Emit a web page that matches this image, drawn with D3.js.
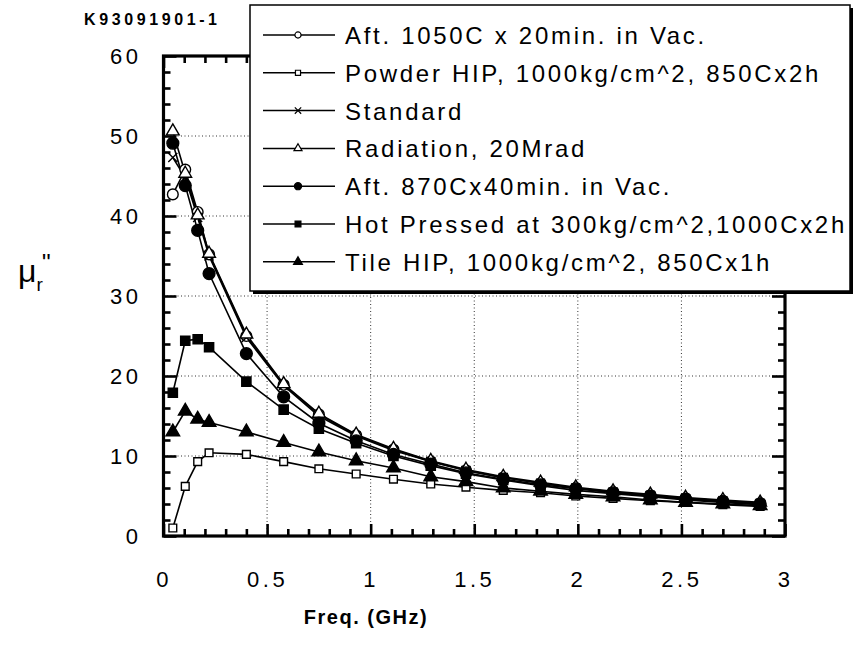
<!DOCTYPE html>
<html>
<head>
<meta charset="utf-8">
<script src="https://cdn.jsdelivr.net/npm/d3@7/dist/d3.min.js"></script>
<style>
  html, body { margin: 0; padding: 0; background: #fff; }
  svg { display: block; }
  text { font-family: "Liberation Sans", Arial, Helvetica, sans-serif; fill: #000; }
</style>
</head>
<body>
<svg id="chart" width="858" height="648"></svg>
<script>
// ---------------- data ----------------
const freqs      = [0.045, 0.105, 0.165, 0.22, 0.40, 0.58, 0.75, 0.93, 1.11, 1.29, 1.46, 1.64, 1.82, 1.99, 2.17, 2.35, 2.52, 2.70, 2.88];
const aft1050    = [42.7, 45.8, 40.5, 35.2, 25.0, 18.9, 15.2, 12.6, 10.8, 9.3, 8.2, 7.3, 6.6, 6.0, 5.5, 5.1, 4.7, 4.4, 4.1];
const powderHip  = [1.0, 6.2, 9.3, 10.4, 10.2, 9.3, 8.4, 7.75, 7.1, 6.5, 6.1, 5.7, 5.4, 5.0, 4.7, 4.4, 4.2, 3.9, 3.7];
const standard   = [47.3, 44.8, 39.8, 35.0, 24.8, 18.8, 15.0, 12.5, 10.7, 9.3, 8.2, 7.3, 6.6, 6.0, 5.5, 5.1, 4.7, 4.4, 4.1];
const radiation  = [50.6, 45.3, 40.1, 35.3, 25.2, 19.0, 15.3, 12.7, 10.9, 9.4, 8.3, 7.4, 6.7, 6.1, 5.6, 5.2, 4.8, 4.5, 4.2];
const aft870     = [49.1, 43.8, 38.2, 32.8, 22.8, 17.4, 14.1, 11.9, 10.2, 9.0, 7.9, 7.1, 6.4, 5.9, 5.4, 5.0, 4.6, 4.3, 4.0];
const hotPressed = [17.9, 24.4, 24.6, 23.6, 19.3, 15.8, 13.4, 11.6, 10.0, 8.8, 7.8, 7.0, 6.3, 5.7, 5.3, 4.9, 4.5, 4.2, 3.9];
const tileHip    = [13.0, 15.6, 14.6, 14.2, 13.0, 11.7, 10.5, 9.4, 8.5, 7.4, 6.8, 6.0, 5.6, 5.2, 4.9, 4.5, 4.2, 4.0, 3.8];

const seriesNames = [
  "Aft. 1050C x 20min. in Vac.",
  "Powder HIP, 1000kg/cm^2, 850Cx2h",
  "Standard",
  "Radiation, 20Mrad",
  "Aft. 870Cx40min. in Vac.",
  "Hot Pressed at 300kg/cm^2,1000Cx2h",
  "Tile HIP, 1000kg/cm^2, 850Cx1h"
];
const seriesValues = [aft1050, powderHip, standard, radiation, aft870, hotPressed, tileHip];

const xTicks = [0, 0.5, 1, 1.5, 2, 2.5, 3];
const xTickLabels = ["0", "0.5", "1", "1.5", "2", "2.5", "3"];
const yTicks = [0, 10, 20, 30, 40, 50, 60];
const yTickLabels = ["0", "10", "20", "30", "40", "50", "60"];
const xLabel = "Freq. (GHz)";
const docId = "K93091901-1";

// ---------------- styling (not data) ----------------
const markerStyles = [
  { type: d3.symbolCircle,   fill: "#fff", size: 90, lsize: 30 },
  { type: d3.symbolSquare,   fill: "#fff", size: 60, lsize: 26 },
  { type: d3.symbolTimes,    fill: "none", size: 55, lsize: 28 },
  { type: d3.symbolTriangle, fill: "#fff", size: 70, lsize: 28 },
  { type: d3.symbolCircle,   fill: "#000", size: 110, lsize: 40 },
  { type: d3.symbolSquare,   fill: "#000", size: 85, lsize: 34 },
  { type: d3.symbolTriangle, fill: "#000", size: 80, lsize: 34 }
];

const svg = d3.select("#chart");
const x = d3.scaleLinear().domain([0, 3]).range([163.5, 785]);
const y = d3.scaleLinear().domain([0, 60]).range([536, 56]);
const [x0, x1] = x.range();
const [y0, y1] = y.range();

// ---------------- grid ----------------
const grid = svg.append("g").attr("stroke", "#333").attr("stroke-width", 1).attr("stroke-dasharray", "1,2.5");
grid.selectAll("line.h").data(yTicks.filter(v => v > 0 && v < 60)).join("line")
  .attr("x1", x0).attr("x2", x1).attr("y1", d => y(d)).attr("y2", d => y(d));
grid.selectAll("line.v").data(xTicks.filter(v => v > 0 && v < 3)).join("line")
  .attr("y1", y0).attr("y2", y1).attr("x1", d => x(d)).attr("x2", d => x(d));

// ---------------- axes (inward ticks on all four sides) ----------------
const xMinor = d3.range(0, 3.0001, 0.1).map(v => +v.toFixed(2)).filter(v => !xTicks.some(t => Math.abs(t - v) < 1e-6));
const yMinor = d3.range(0, 60.001, 2).filter(v => yTicks.indexOf(v) < 0);

function styleAxis(g) {
  g.select(".domain").remove();
  g.selectAll(".tick line").attr("stroke", "#000").attr("stroke-width", 2.6);
  g.selectAll(".tick text")
    .style("font-family", "'Liberation Sans', Arial, sans-serif")
    .style("font-size", "22px").style("letter-spacing", "3.5px").attr("fill", "#000");
}

// bottom
svg.append("g").attr("transform", `translate(0,${y0})`)
  .call(d3.axisBottom(x).tickValues(xMinor).tickSizeInner(-7).tickSizeOuter(0).tickFormat(""))
  .call(styleAxis);
svg.append("g").attr("transform", `translate(0,${y0})`)
  .call(d3.axisBottom(x).tickValues(xTicks).tickSizeInner(-12).tickSizeOuter(0).tickPadding(35)
    .tickFormat((d, i) => xTickLabels[i]))
  .call(styleAxis);
// top
svg.append("g").attr("transform", `translate(0,${y1})`)
  .call(d3.axisTop(x).tickValues(xMinor).tickSizeInner(-7).tickSizeOuter(0).tickFormat(""))
  .call(styleAxis);
svg.append("g").attr("transform", `translate(0,${y1})`)
  .call(d3.axisTop(x).tickValues(xTicks).tickSizeInner(-12).tickSizeOuter(0).tickFormat(""))
  .call(styleAxis);
// left
svg.append("g").attr("transform", `translate(${x0},0)`)
  .call(d3.axisLeft(y).tickValues(yMinor).tickSizeInner(-7).tickSizeOuter(0).tickFormat(""))
  .call(styleAxis);
svg.append("g").attr("transform", `translate(${x0},0)`)
  .call(d3.axisLeft(y).tickValues(yTicks).tickSizeInner(-13).tickSizeOuter(0).tickPadding(22)
    .tickFormat((d, i) => yTickLabels[i]))
  .call(styleAxis);
// right
svg.append("g").attr("transform", `translate(${x1},0)`)
  .call(d3.axisRight(y).tickValues(yMinor).tickSizeInner(-7).tickSizeOuter(0).tickFormat(""))
  .call(styleAxis);
svg.append("g").attr("transform", `translate(${x1},0)`)
  .call(d3.axisRight(y).tickValues(yTicks).tickSizeInner(-13).tickSizeOuter(0).tickFormat(""))
  .call(styleAxis);

// frame
svg.append("rect").attr("x", x0).attr("y", y1).attr("width", x1 - x0).attr("height", y0 - y1)
  .attr("fill", "none").attr("stroke", "#000").attr("stroke-width", 3.2);

// ---------------- series ----------------
const line = d3.line().x(d => x(d[0])).y(d => y(d[1]));
const plot = svg.append("g");
seriesValues.forEach((vals, i) => {
  const pts = freqs.map((f, k) => [f, vals[k]]);
  plot.append("path").datum(pts).attr("d", line)
    .attr("fill", "none").attr("stroke", "#000").attr("stroke-width", 1.6);
});
seriesValues.forEach((vals, i) => {
  const st = markerStyles[i];
  const sym = d3.symbol().type(st.type).size(st.size);
  plot.append("g").selectAll("path").data(freqs.map((f, k) => [f, vals[k]])).join("path")
    .attr("d", sym)
    .attr("transform", d => `translate(${x(d[0])},${y(d[1])})`)
    .attr("fill", st.fill).attr("stroke", "#000").attr("stroke-width", 1.4);
});

// ---------------- legend ----------------
const lg = svg.append("g");
lg.append("rect").attr("x", 253).attr("y", 8).attr("width", 600).attr("height", 286).attr("fill", "#000");
lg.append("rect").attr("x", 250).attr("y", 5).attr("width", 600).attr("height", 286)
  .attr("fill", "#fff").attr("stroke", "#000").attr("stroke-width", 1.5);
seriesNames.forEach((name, i) => {
  const cy = 35 + i * 37.8;
  const st = markerStyles[i];
  lg.append("line").attr("x1", 263).attr("x2", 335).attr("y1", cy).attr("y2", cy)
    .attr("stroke", "#000").attr("stroke-width", 1.5);
  lg.append("path").attr("d", d3.symbol().type(st.type).size(st.lsize)())
    .attr("transform", `translate(298,${cy})`)
    .attr("fill", st.fill).attr("stroke", "#000").attr("stroke-width", 1.2);
  lg.append("text").attr("x", 345).attr("y", cy + 9)
    .style("font-size", "24px").style("letter-spacing", "2.7px").text(name);
});

// ---------------- titles ----------------
svg.append("text").attr("x", 84).attr("y", 25)
  .style("font-size", "16px").style("font-weight", "bold").style("letter-spacing", "3.6px")
  .text(docId);

svg.append("text").attr("x", 366).attr("y", 624).attr("text-anchor", "middle")
  .style("font-size", "20px").style("font-weight", "bold").style("letter-spacing", "1.5px")
  .text(xLabel);

const yl = svg.append("text").attr("x", 18).attr("y", 282).style("font-size", "32px");
yl.append("tspan").text("μ");
yl.append("tspan").attr("dy", 9).style("font-size", "19px").text("r");
yl.append("tspan").attr("dy", -20).attr("dx", -1).style("font-size", "24px").text("''");
</script>
</body>
</html>
